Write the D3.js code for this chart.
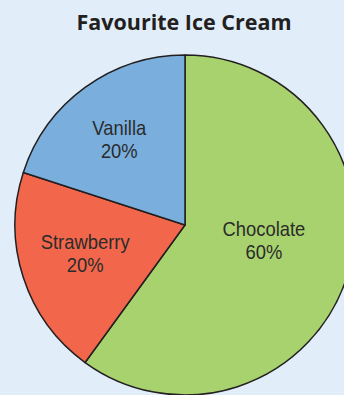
<!DOCTYPE html>
<html><head><meta charset="utf-8">
<script src="https://cdn.jsdelivr.net/npm/d3@7"></script>
<style>
html,body{margin:0;padding:0;background:#e1eef9;}
svg{display:block;}
</style></head>
<body>
<svg id="chart" width="344" height="395"></svg>
<script>
const title = "Favourite Ice Cream";
const categories = ["Chocolate", "Strawberry", "Vanilla"];
const values = [60, 20, 20];
const colors = ["#a8d26e", "#f2674b", "#7aafdd"];

const W = 344, H = 395;
const cx = 185, cy = 225, r = 170;
const svg = d3.select("#chart");
svg.append("rect").attr("width", W).attr("height", H).attr("fill", "#e1eef9");

svg.append("text").attr("x", 184).attr("y", 30).attr("text-anchor", "middle")
  .attr("font-family", "'Open Sans', sans-serif").attr("font-weight", "bold")
  .attr("font-size", 21.5).attr("fill", "#231f20").text(title);

const data = categories.map((c, i) => ({cat: c, val: values[i], col: colors[i]}));
const pie = d3.pie().value(d => d.val).sort(null);
const arcs = pie(data);
const arc = d3.arc().innerRadius(0).outerRadius(r);
const g = svg.append("g").attr("transform", `translate(${cx},${cy})`);
g.selectAll("path").data(arcs).join("path")
  .attr("d", arc).attr("fill", d => d.data.col)
  .attr("stroke", "#231f20").attr("stroke-width", 1.5).attr("stroke-linejoin", "round");

const labelR = [84, 105, 105];
const labelOff = [[-1, -6.5], [0, 0], [-4, 3.5]];
arcs.forEach((a, i) => {
  const la = d3.arc().innerRadius(labelR[i]).outerRadius(labelR[i]);
  const [x, y] = la.centroid(a);
  const lg = g.append("g")
    .attr("transform", `translate(${x + labelOff[i][0]},${y + labelOff[i][1]}) scale(0.92,1)`);
  const base = {"font-family": "'Liberation Sans', Arial, sans-serif", "font-size": 20, "fill": "#2b2b2b", "text-anchor": "middle"};
  const t1 = lg.append("text").attr("x", 0).attr("y", -8.5).text(a.data.cat);
  const t2 = lg.append("text").attr("x", 0).attr("y", 14.5).text(a.data.val + "%");
  [t1, t2].forEach(t => Object.entries(base).forEach(([k, v]) => t.attr(k, v)));
});
</script>
</body></html>
